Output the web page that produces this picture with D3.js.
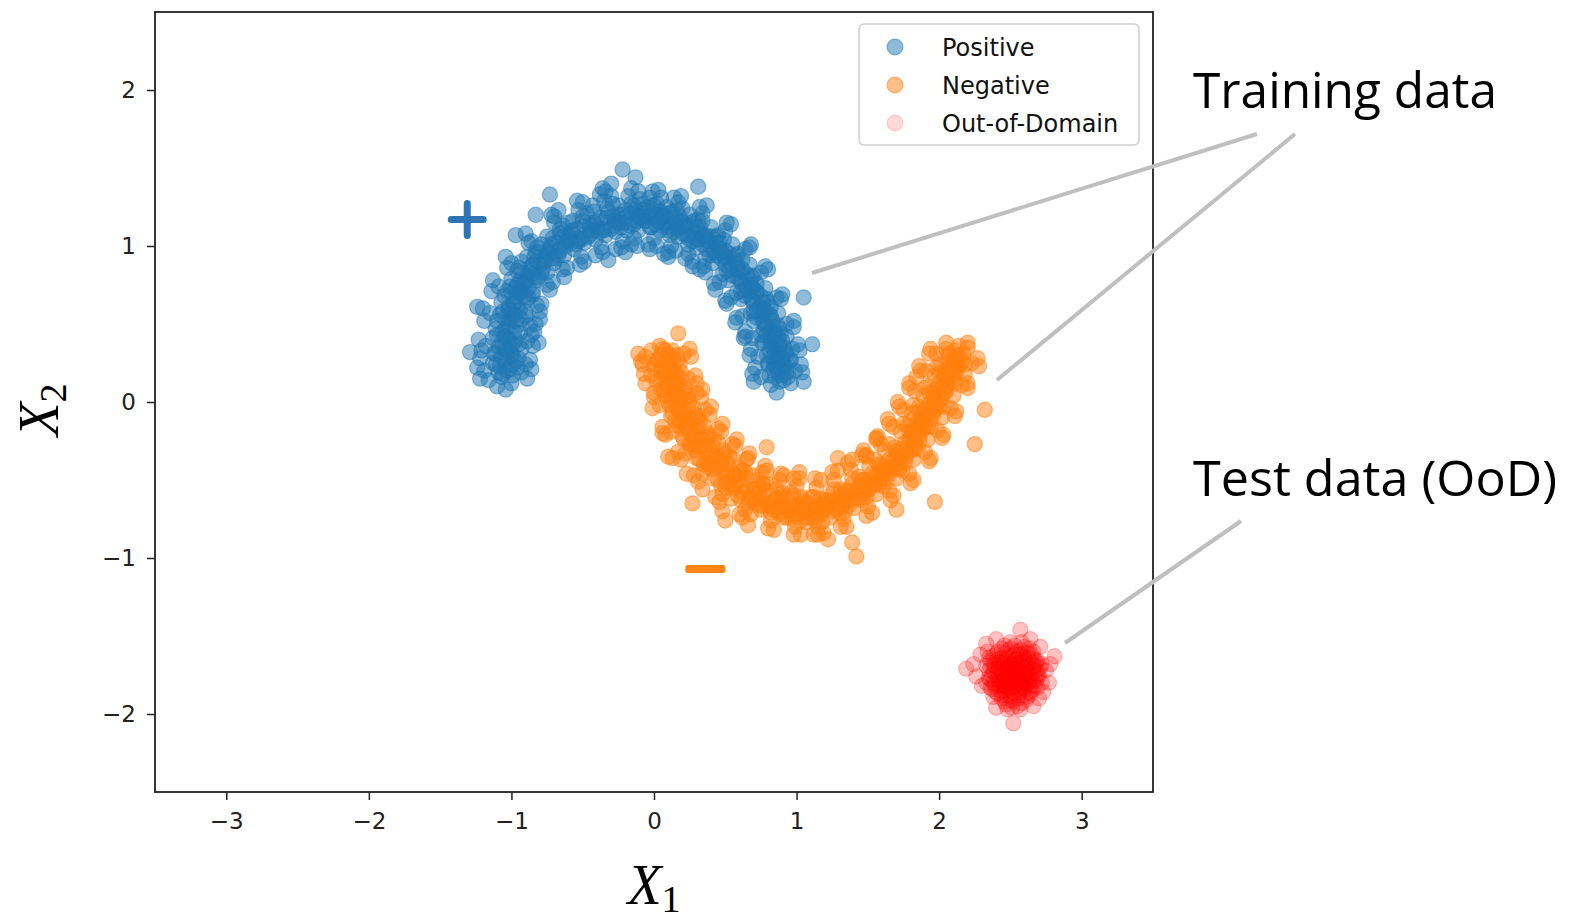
<!DOCTYPE html>
<html>
<head>
<meta charset="utf-8">
<script src="https://cdn.jsdelivr.net/npm/d3@7"></script>
<style>
  body { margin: 0; background: #fff; }
  svg { display: block; }
</style>
</head>
<body>
<div id="chart"></div>
<script>
// tick values
const xTicks = [-3, -2, -1, 0, 1, 2, 3]
const yTicks = [-2, -1, 0, 1, 2]

const seriesNames = ['Positive', 'Negative', 'Out-of-Domain']

// points, [x1, x2]
const positivePoints = [
  [-1.19, 0.20], [-1.13, 0.25], [-1.09, 0.19], [-1.05, 0.27], [-1.01, 0.21], [-0.97, 0.26], [-0.93, 0.19], [-0.90, 0.24], [-1.07, 0.16], [-0.99, 0.17],
  [-1.18, 0.36], [-1.13, 0.41], [-1.09, 0.35], [-1.05, 0.42], [-1.01, 0.36], [-0.97, 0.40], [-0.93, 0.34], [-0.89, 0.39], [-1.11, 0.31], [-1.00, 0.30],
  [-1.15, 0.57], [-1.10, 0.52], [-1.06, 0.58], [-1.02, 0.51], [-0.98, 0.56], [-0.94, 0.50], [-0.90, 0.55], [-0.87, 0.49], [-1.04, 0.47], [-0.96, 0.61],
  [-1.09, 0.74], [-1.05, 0.68], [-1.01, 0.74], [-0.97, 0.67], [-0.93, 0.72], [-0.89, 0.65], [-0.85, 0.69], [-0.82, 0.62], [-0.99, 0.63], [-0.94, 0.78],
  [-1.00, 0.89], [-0.96, 0.84], [-0.93, 0.90], [-0.89, 0.81], [-0.86, 0.87], [-0.82, 0.78], [-0.79, 0.83], [-0.75, 0.75], [-0.91, 0.76], [-0.84, 0.93],
  [-0.86, 1.03], [-0.83, 0.96], [-0.79, 1.01], [-0.76, 0.93], [-0.73, 0.99], [-0.70, 0.89], [-0.67, 0.94], [-0.64, 0.85], [-0.80, 0.88], [-0.71, 1.05],
  [-0.70, 1.15], [-0.66, 1.08], [-0.64, 1.13], [-0.61, 1.03], [-0.58, 1.09], [-0.56, 0.98], [-0.53, 1.03], [-0.51, 0.93], [-0.67, 0.98], [-0.57, 1.16],
  [-0.53, 1.23], [-0.50, 1.16], [-0.47, 1.21], [-0.45, 1.10], [-0.42, 1.15], [-0.41, 1.04], [-0.38, 1.09], [-0.37, 0.99], [-0.51, 1.04], [-0.43, 1.26],
  [-0.35, 1.29], [-0.32, 1.22], [-0.29, 1.27], [-0.28, 1.16], [-0.25, 1.20], [-0.27, 1.09], [-0.23, 1.12], [-0.22, 1.03], [-0.35, 1.10], [-0.30, 1.32],
  [-0.18, 1.32], [-0.14, 1.26], [-0.10, 1.30], [-0.12, 1.20], [-0.08, 1.23], [-0.17, 1.13], [-0.11, 1.10], [-0.14, 1.05], [-0.20, 1.18], [-0.06, 1.16],
  [-0.03, 1.31], [0.02, 1.27], [0.05, 1.31], [0.01, 1.20], [0.05, 1.22], [-0.02, 1.12], [0.04, 1.10], [0.00, 1.05], [-0.05, 1.19], [0.08, 1.15],
  [0.17, 1.28], [0.13, 1.22], [0.20, 1.24], [0.14, 1.15], [0.19, 1.16], [0.11, 1.07], [0.17, 1.06], [0.12, 1.00], [0.09, 1.12], [0.22, 1.12],
  [0.34, 1.21], [0.28, 1.16], [0.34, 1.16], [0.28, 1.08], [0.33, 1.08], [0.24, 1.01], [0.30, 0.99], [0.24, 0.95], [0.23, 1.07], [0.37, 1.04],
  [0.50, 1.10], [0.44, 1.06], [0.49, 1.04], [0.41, 0.99], [0.46, 0.98], [0.36, 0.92], [0.41, 0.89], [0.35, 0.87], [0.38, 1.03], [0.50, 0.93],
  [0.64, 0.98], [0.58, 0.94], [0.62, 0.91], [0.54, 0.88], [0.58, 0.85], [0.48, 0.82], [0.52, 0.78], [0.46, 0.77], [0.50, 0.92], [0.62, 0.83],
  [0.75, 0.83], [0.69, 0.80], [0.72, 0.76], [0.64, 0.75], [0.67, 0.71], [0.58, 0.70], [0.61, 0.66], [0.54, 0.67], [0.60, 0.79], [0.72, 0.70],
  [0.86, 0.67], [0.79, 0.66], [0.82, 0.61], [0.74, 0.61], [0.76, 0.56], [0.68, 0.57], [0.70, 0.52], [0.62, 0.55], [0.69, 0.65], [0.82, 0.55],
  [0.93, 0.50], [0.87, 0.49], [0.89, 0.44], [0.81, 0.46], [0.83, 0.41], [0.75, 0.43], [0.76, 0.38], [0.69, 0.41], [0.77, 0.51], [0.90, 0.39],
  [0.97, 0.34], [0.91, 0.35], [0.93, 0.30], [0.85, 0.32], [0.87, 0.27], [0.79, 0.30], [0.80, 0.25], [0.73, 0.29], [0.82, 0.37], [0.95, 0.26],
  [0.99, 0.20], [0.93, 0.22], [0.94, 0.16], [0.87, 0.19], [0.88, 0.13], [0.81, 0.17], [0.82, 0.11], [0.75, 0.16], [0.84, 0.24], [0.96, 0.12],
  [-1.12, 0.31], [-1.07, 0.29], [-1.03, 0.32], [-0.99, 0.30], [-0.95, 0.28], [-1.05, 0.34],
  [-1.11, 0.47], [-1.06, 0.45], [-1.02, 0.48], [-0.98, 0.45], [-0.94, 0.44], [-1.04, 0.42],
  [-1.07, 0.64], [-1.02, 0.61], [-0.98, 0.63], [-0.94, 0.59], [-0.90, 0.58], [-1.00, 0.57],
  [-1.00, 0.79], [-0.96, 0.75], [-0.92, 0.77], [-0.88, 0.73], [-0.85, 0.71], [-0.94, 0.70],
  [-0.89, 0.93], [-0.85, 0.88], [-0.82, 0.90], [-0.78, 0.85], [-0.75, 0.83], [-0.85, 0.82],
  [-0.75, 1.06], [-0.72, 1.01], [-0.69, 1.02], [-0.66, 0.97], [-0.63, 0.94], [-0.73, 0.95],
  [-0.60, 1.15], [-0.57, 1.10], [-0.54, 1.11], [-0.52, 1.05], [-0.49, 1.02], [-0.59, 1.04],
  [-0.42, 1.22], [-0.40, 1.16], [-0.37, 1.18], [-0.36, 1.11], [-0.34, 1.07], [-0.43, 1.10],
  [-0.25, 1.26], [-0.23, 1.20], [-0.20, 1.23], [-0.21, 1.15], [-0.19, 1.10], [-0.27, 1.16],
  [-0.08, 1.27], [-0.07, 1.21], [-0.04, 1.25], [-0.06, 1.16], [-0.03, 1.12], [-0.11, 1.18],
  [0.09, 1.25], [0.07, 1.19], [0.11, 1.21], [0.06, 1.13], [0.10, 1.10], [0.03, 1.16],
  [0.25, 1.20], [0.22, 1.14], [0.26, 1.15], [0.20, 1.08], [0.24, 1.05], [0.17, 1.11],
  [0.40, 1.12], [0.36, 1.07], [0.40, 1.06], [0.34, 1.01], [0.37, 0.98], [0.31, 1.04],
  [0.55, 1.01], [0.50, 0.97], [0.53, 0.95], [0.47, 0.92], [0.50, 0.88], [0.44, 0.94],
  [0.67, 0.88], [0.62, 0.85], [0.65, 0.82], [0.58, 0.80], [0.61, 0.77], [0.55, 0.81],
  [0.78, 0.73], [0.72, 0.71], [0.75, 0.68], [0.68, 0.67], [0.70, 0.63], [0.64, 0.68],
  [0.87, 0.57], [0.81, 0.56], [0.83, 0.52], [0.76, 0.53], [0.78, 0.49], [0.72, 0.54],
  [0.93, 0.42], [0.87, 0.41], [0.88, 0.37], [0.82, 0.39], [0.83, 0.35], [0.77, 0.39],
  [0.96, 0.27], [0.90, 0.27], [0.91, 0.23], [0.85, 0.26], [0.86, 0.22], [0.80, 0.24],
  [-1.08, 0.23], [-1.03, 0.20], [-1.00, 0.24], [-1.06, 0.18], [-1.11, 0.24], [-0.96, 0.22],
  [-1.07, 0.38], [-1.02, 0.40], [-0.99, 0.37], [-1.10, 0.43], [-1.04, 0.34], [-0.95, 0.37],
  [-1.05, 0.54], [-1.00, 0.53], [-0.97, 0.52], [-1.08, 0.56], [-1.02, 0.59], [-0.93, 0.53],
  [-1.00, 0.70], [-0.95, 0.70], [-0.91, 0.68], [-1.03, 0.71], [-0.97, 0.73], [-0.88, 0.67],
  [-0.92, 0.83], [-0.87, 0.83], [-0.84, 0.80], [-0.95, 0.86], [-0.89, 0.78], [-0.81, 0.80],
  [-0.79, 0.96], [-0.75, 0.96], [-0.72, 0.92], [-0.82, 0.99], [-0.77, 0.90], [-0.69, 0.92],
  [-0.64, 1.06], [-0.60, 1.06], [-0.58, 1.02], [-0.66, 1.11], [-0.62, 1.00], [-0.55, 1.01],
  [-0.49, 1.13], [-0.45, 1.13], [-0.44, 1.08], [-0.50, 1.19], [-0.46, 1.06], [-0.40, 1.12],
  [-0.33, 1.18], [-0.29, 1.19], [-0.28, 1.13], [-0.33, 1.24], [-0.30, 1.11], [-0.25, 1.15],
  [-0.16, 1.21], [-0.13, 1.23], [-0.12, 1.16], [-0.16, 1.27], [-0.14, 1.14], [-0.09, 1.19],
  [-0.01, 1.21], [0.03, 1.22], [0.03, 1.16], [0.00, 1.26], [0.01, 1.14], [0.06, 1.19],
  [0.15, 1.18], [0.18, 1.19], [0.16, 1.12], [0.16, 1.23], [0.14, 1.09], [0.20, 1.13],
  [0.30, 1.12], [0.32, 1.12], [0.29, 1.05], [0.31, 1.17], [0.27, 1.03], [0.34, 1.06],
  [0.44, 1.02], [0.46, 1.02], [0.42, 0.96], [0.45, 1.07], [0.39, 0.94], [0.47, 0.96],
  [0.56, 0.91], [0.58, 0.89], [0.53, 0.85], [0.59, 0.95], [0.51, 0.84], [0.59, 0.86],
  [0.67, 0.78], [0.68, 0.75], [0.63, 0.72], [0.70, 0.81], [0.61, 0.71], [0.69, 0.73],
  [0.76, 0.64], [0.77, 0.60], [0.72, 0.58], [0.80, 0.64], [0.70, 0.58], [0.78, 0.58],
  [0.83, 0.48], [0.84, 0.45], [0.79, 0.43], [0.88, 0.47], [0.77, 0.46], [0.85, 0.43],
  [0.87, 0.33], [0.88, 0.31], [0.83, 0.29], [0.92, 0.32], [0.81, 0.33], [0.89, 0.28],
  [0.89, 0.20], [0.90, 0.17], [0.85, 0.16], [0.93, 0.19], [0.84, 0.21], [0.91, 0.14],
  [-1.24, 0.22], [-1.22, 0.28], [-0.86, 0.21], [-0.87, 0.27],
  [-1.23, 0.40], [-1.21, 0.33], [-0.85, 0.36], [-0.86, 0.43],
  [-1.20, 0.60], [-1.19, 0.52], [-0.83, 0.50], [-0.84, 0.45],
  [-1.13, 0.78], [-1.14, 0.71], [-0.79, 0.63], [-0.80, 0.58],
  [-1.04, 0.93], [-1.03, 0.86], [-0.73, 0.72], [-0.71, 0.77],
  [-0.90, 1.08], [-0.88, 1.02], [-0.63, 0.80], [-0.61, 0.86],
  [-0.72, 1.20], [-0.70, 1.19], [-0.52, 0.88], [-0.49, 0.90],
  [-0.54, 1.29], [-0.50, 1.28], [-0.41, 0.94], [-0.36, 0.96],
  [-0.34, 1.35], [-0.38, 1.33], [-0.27, 0.98], [-0.23, 0.99],
  [-0.16, 1.37], [-0.11, 1.35], [-0.16, 1.01], [-0.12, 1.00],
  [0.03, 1.36], [-0.01, 1.35], [0.02, 1.00], [-0.04, 1.01],
  [0.19, 1.32], [0.14, 1.31], [0.10, 0.96], [0.15, 0.97],
  [0.37, 1.26], [0.32, 1.25], [0.22, 0.92], [0.27, 0.90],
  [0.54, 1.14], [0.51, 1.15], [0.32, 0.85], [0.36, 0.83],
  [0.68, 1.01], [0.67, 0.99], [0.42, 0.76], [0.43, 0.72],
  [0.80, 0.85], [0.78, 0.87], [0.50, 0.65], [0.51, 0.63],
  [0.90, 0.69], [0.89, 0.66], [0.58, 0.54], [0.57, 0.51],
  [0.98, 0.52], [0.98, 0.48], [0.63, 0.41], [0.64, 0.45],
  [1.02, 0.33], [1.01, 0.37], [0.67, 0.30], [0.68, 0.34],
  [1.04, 0.19], [1.03, 0.24], [0.69, 0.18], [0.70, 0.13],
  [-0.22, 1.49], [-0.13, 1.44], [-0.73, 1.33], [-0.67, 1.23], [-0.83, 1.20], [-0.97, 1.07],
  [-1.24, 0.61], [-1.29, 0.32], [-1.22, 0.15], [-1.04, 0.08], [-0.89, 0.15], [-0.81, 0.38],
  [-0.80, 0.53], [-0.32, 0.91], [-0.20, 0.96], [0.31, 1.38], [0.10, 0.93], [0.27, 0.87],
  [1.05, 0.67], [1.11, 0.37], [1.05, 0.13], [0.86, 0.06], [0.71, 0.22], [0.64, 0.42],
  [-0.36, 1.37], [-0.30, 1.40], [-0.03, 0.98], [0.07, 0.95], [-1.16, 0.14], [-1.10, 0.10], [-1.00, 0.12]
]

const negativePoints = [
  [-0.06, 0.29], [-0.02, 0.33], [0.02, 0.27], [0.06, 0.34], [0.09, 0.28], [0.13, 0.33], [0.17, 0.27], [0.21, 0.31], [0.00, 0.22], [0.11, 0.23], [0.04, 0.36],
  [-0.02, 0.17], [0.02, 0.13], [0.05, 0.19], [0.09, 0.12], [0.12, 0.18], [0.16, 0.13], [0.19, 0.19], [0.24, 0.15], [0.07, 0.08], [0.15, 0.09],
  [0.04, -0.02], [0.08, 0.04], [0.11, -0.02], [0.15, 0.05], [0.18, 0.00], [0.22, 0.06], [0.25, 0.01], [0.30, 0.06], [0.13, -0.07], [0.21, -0.06],
  [0.12, -0.19], [0.15, -0.12], [0.19, -0.17], [0.22, -0.10], [0.26, -0.15], [0.29, -0.08], [0.32, -0.12], [0.36, -0.05], [0.20, -0.22], [0.30, -0.18],
  [0.22, -0.33], [0.25, -0.26], [0.29, -0.31], [0.32, -0.23], [0.36, -0.28], [0.38, -0.20], [0.42, -0.24], [0.45, -0.17], [0.30, -0.36], [0.40, -0.31],
  [0.34, -0.46], [0.37, -0.39], [0.41, -0.43], [0.43, -0.35], [0.47, -0.40], [0.49, -0.31], [0.53, -0.35], [0.55, -0.27], [0.42, -0.49], [0.51, -0.44],
  [0.48, -0.59], [0.51, -0.52], [0.55, -0.55], [0.56, -0.47], [0.60, -0.50], [0.60, -0.42], [0.64, -0.45], [0.65, -0.37], [0.54, -0.62], [0.62, -0.58],
  [0.64, -0.69], [0.67, -0.62], [0.71, -0.65], [0.70, -0.56], [0.74, -0.59], [0.73, -0.50], [0.77, -0.53], [0.76, -0.45], [0.68, -0.72], [0.77, -0.67],
  [0.82, -0.76], [0.84, -0.69], [0.88, -0.72], [0.85, -0.63], [0.89, -0.65], [0.86, -0.56], [0.90, -0.58], [0.88, -0.50], [0.80, -0.66], [0.93, -0.74],
  [0.99, -0.80], [0.98, -0.73], [1.03, -0.76], [1.00, -0.67], [1.04, -0.69], [0.98, -0.60], [1.03, -0.61], [1.00, -0.54], [0.95, -0.70], [1.07, -0.74],
  [1.15, -0.80], [1.12, -0.74], [1.18, -0.77], [1.14, -0.68], [1.18, -0.70], [1.12, -0.61], [1.17, -0.62], [1.14, -0.55], [1.10, -0.69], [1.21, -0.66],
  [1.33, -0.75], [1.28, -0.69], [1.34, -0.70], [1.29, -0.62], [1.33, -0.63], [1.26, -0.56], [1.31, -0.56], [1.26, -0.50], [1.24, -0.64], [1.37, -0.66],
  [1.50, -0.67], [1.44, -0.62], [1.49, -0.61], [1.43, -0.55], [1.47, -0.54], [1.39, -0.49], [1.44, -0.48], [1.38, -0.43], [1.40, -0.59], [1.51, -0.56],
  [1.65, -0.57], [1.58, -0.53], [1.63, -0.51], [1.56, -0.46], [1.60, -0.44], [1.51, -0.41], [1.55, -0.37], [1.49, -0.35], [1.53, -0.51], [1.64, -0.44],
  [1.79, -0.46], [1.72, -0.43], [1.76, -0.39], [1.68, -0.37], [1.71, -0.33], [1.62, -0.31], [1.65, -0.27], [1.59, -0.27], [1.66, -0.42], [1.77, -0.33],
  [1.90, -0.32], [1.83, -0.30], [1.86, -0.25], [1.79, -0.24], [1.81, -0.19], [1.73, -0.19], [1.75, -0.14], [1.68, -0.16], [1.77, -0.30], [1.87, -0.19],
  [1.99, -0.18], [1.92, -0.16], [1.94, -0.11], [1.87, -0.11], [1.89, -0.06], [1.81, -0.07], [1.82, -0.02], [1.75, -0.05], [1.85, -0.17], [1.96, -0.06],
  [2.08, -0.04], [2.01, -0.02], [2.02, 0.03], [1.95, 0.01], [1.97, 0.06], [1.89, 0.04], [1.90, 0.09], [1.83, 0.07], [1.94, -0.05], [2.05, 0.07],
  [2.16, 0.11], [2.09, 0.13], [2.10, 0.18], [2.03, 0.15], [2.04, 0.20], [1.97, 0.17], [1.98, 0.22], [1.91, 0.20], [2.02, 0.09], [2.13, 0.22],
  [2.23, 0.25], [2.16, 0.26], [2.17, 0.31], [2.10, 0.27], [2.11, 0.33], [2.04, 0.29], [2.05, 0.34], [1.98, 0.31], [2.09, 0.21], [2.20, 0.35],
  [0.01, 0.24], [0.06, 0.22], [0.10, 0.25], [0.14, 0.21], [0.18, 0.24], [0.08, 0.19],
  [0.05, 0.08], [0.10, 0.10], [0.14, 0.07], [0.18, 0.11], [0.22, 0.09], [0.12, 0.04],
  [0.12, -0.09], [0.17, -0.05], [0.20, -0.08], [0.24, -0.03], [0.28, -0.04], [0.18, -0.12],
  [0.21, -0.24], [0.25, -0.19], [0.28, -0.22], [0.31, -0.16], [0.35, -0.15], [0.26, -0.27],
  [0.32, -0.37], [0.36, -0.32], [0.39, -0.34], [0.41, -0.28], [0.45, -0.26], [0.35, -0.40],
  [0.45, -0.50], [0.48, -0.44], [0.51, -0.46], [0.52, -0.40], [0.56, -0.37], [0.47, -0.53],
  [0.59, -0.60], [0.62, -0.54], [0.65, -0.56], [0.65, -0.49], [0.69, -0.47], [0.61, -0.63],
  [0.75, -0.69], [0.76, -0.62], [0.80, -0.64], [0.79, -0.57], [0.82, -0.53], [0.74, -0.66],
  [0.91, -0.74], [0.92, -0.67], [0.95, -0.69], [0.93, -0.62], [0.96, -0.58], [0.89, -0.70],
  [1.07, -0.77], [1.06, -0.70], [1.10, -0.72], [1.08, -0.65], [1.10, -0.61], [1.04, -0.68],
  [1.24, -0.74], [1.21, -0.68], [1.25, -0.70], [1.22, -0.63], [1.25, -0.59], [1.19, -0.65],
  [1.40, -0.68], [1.36, -0.63], [1.40, -0.62], [1.36, -0.57], [1.39, -0.53], [1.33, -0.59],
  [1.56, -0.59], [1.51, -0.55], [1.55, -0.53], [1.50, -0.50], [1.53, -0.46], [1.46, -0.50],
  [1.70, -0.49], [1.65, -0.46], [1.68, -0.43], [1.62, -0.41], [1.65, -0.37], [1.58, -0.40],
  [1.82, -0.37], [1.77, -0.35], [1.80, -0.31], [1.73, -0.30], [1.76, -0.26], [1.69, -0.29],
  [1.92, -0.24], [1.86, -0.22], [1.89, -0.17], [1.82, -0.18], [1.85, -0.13], [1.78, -0.15],
  [2.02, -0.10], [1.96, -0.08], [1.98, -0.04], [1.91, -0.05], [1.93, -0.01], [1.86, -0.03],
  [2.10, 0.04], [2.04, 0.06], [2.05, 0.10], [1.98, 0.08], [2.00, 0.12], [1.93, 0.10],
  [2.18, 0.18], [2.12, 0.19], [2.13, 0.24], [2.06, 0.21], [2.07, 0.26], [2.01, 0.24],
  [0.05, 0.30], [0.10, 0.31], [0.13, 0.28], [0.03, 0.27], [0.08, 0.33], [0.16, 0.30],
  [0.08, 0.16], [0.13, 0.15], [0.16, 0.17], [0.05, 0.14], [0.11, 0.20], [0.19, 0.15],
  [0.13, 0.02], [0.18, 0.03], [0.21, 0.02], [0.10, 0.00], [0.16, -0.03], [0.24, 0.04],
  [0.20, -0.13], [0.25, -0.11], [0.28, -0.11], [0.17, -0.15], [0.23, -0.16], [0.31, -0.09],
  [0.29, -0.27], [0.34, -0.24], [0.37, -0.23], [0.26, -0.29], [0.32, -0.29], [0.39, -0.22],
  [0.40, -0.40], [0.45, -0.36], [0.48, -0.35], [0.38, -0.42], [0.44, -0.41], [0.50, -0.33],
  [0.53, -0.51], [0.57, -0.47], [0.60, -0.46], [0.51, -0.55], [0.57, -0.53], [0.62, -0.44],
  [0.68, -0.61], [0.71, -0.56], [0.74, -0.55], [0.66, -0.65], [0.72, -0.62], [0.76, -0.52],
  [0.83, -0.67], [0.86, -0.62], [0.89, -0.61], [0.82, -0.71], [0.87, -0.68], [0.91, -0.60],
  [0.99, -0.71], [1.01, -0.66], [1.04, -0.65], [0.97, -0.75], [1.02, -0.72], [1.05, -0.63],
  [1.14, -0.71], [1.16, -0.66], [1.19, -0.66], [1.13, -0.76], [1.17, -0.72], [1.20, -0.63],
  [1.30, -0.66], [1.31, -0.61], [1.34, -0.61], [1.30, -0.71], [1.32, -0.67], [1.34, -0.57],
  [1.45, -0.59], [1.45, -0.54], [1.48, -0.53], [1.46, -0.63], [1.47, -0.58], [1.47, -0.50],
  [1.59, -0.49], [1.58, -0.45], [1.61, -0.44], [1.61, -0.54], [1.60, -0.48], [1.59, -0.41],
  [1.71, -0.40], [1.70, -0.36], [1.73, -0.35], [1.74, -0.44], [1.72, -0.39], [1.70, -0.32],
  [1.82, -0.27], [1.80, -0.23], [1.83, -0.22], [1.85, -0.30], [1.82, -0.25], [1.79, -0.19],
  [1.90, -0.14], [1.88, -0.10], [1.91, -0.09], [1.94, -0.16], [1.89, -0.12], [1.86, -0.06],
  [1.98, -0.01], [1.96, 0.03], [1.99, 0.04], [2.03, -0.03], [1.97, 0.00], [1.93, 0.06],
  [2.06, 0.14], [2.04, 0.17], [2.07, 0.18], [2.11, 0.12], [2.05, 0.15], [2.00, 0.19],
  [2.13, 0.26], [2.11, 0.29], [2.14, 0.30], [2.18, 0.24], [2.12, 0.27], [2.07, 0.31],
  [-0.11, 0.31], [-0.09, 0.26], [0.26, 0.29], [0.25, 0.34],
  [-0.07, 0.18], [-0.06, 0.12], [0.29, 0.17], [0.30, 0.12],
  [-0.01, -0.04], [0.00, 0.03], [0.34, 0.08], [0.33, 0.03],
  [0.08, -0.21], [0.06, -0.16], [0.40, -0.03], [0.39, -0.08],
  [0.19, -0.37], [0.17, -0.32], [0.48, -0.14], [0.47, -0.19],
  [0.31, -0.51], [0.28, -0.47], [0.58, -0.24], [0.57, -0.28],
  [0.46, -0.64], [0.43, -0.61], [0.67, -0.33], [0.66, -0.36],
  [0.62, -0.74], [0.60, -0.72], [0.78, -0.41], [0.79, -0.44],
  [0.80, -0.81], [0.84, -0.82], [0.89, -0.46], [0.91, -0.47],
  [0.98, -0.85], [1.03, -0.85], [1.02, -0.49], [0.98, -0.49],
  [1.15, -0.85], [1.19, -0.84], [1.13, -0.49], [1.17, -0.50],
  [1.35, -0.80], [1.31, -0.80], [1.25, -0.45], [1.29, -0.44],
  [1.53, -0.71], [1.49, -0.73], [1.36, -0.39], [1.39, -0.37],
  [1.68, -0.60], [1.66, -0.63], [1.47, -0.31], [1.46, -0.34],
  [1.82, -0.50], [1.80, -0.52], [1.56, -0.24], [1.57, -0.22],
  [1.94, -0.36], [1.93, -0.38], [1.65, -0.14], [1.64, -0.11],
  [2.03, -0.21], [2.02, -0.23], [1.72, -0.03], [1.71, 0.00],
  [2.12, -0.06], [2.11, -0.09], [1.79, 0.09], [1.79, 0.12],
  [2.20, 0.09], [2.20, 0.12], [1.87, 0.20], [1.86, 0.23],
  [2.28, 0.23], [2.27, 0.28], [1.93, 0.31], [1.94, 0.34],
  [2.05, 0.38], [2.20, 0.38], [2.14, 0.36],
  [0.17, 0.44], [0.79, -0.29], [0.27, -0.65], [0.50, -0.76], [0.66, -0.79], [1.02, -0.45],
  [1.42, -0.99], [1.39, -0.90], [1.22, -0.88], [1.12, -0.85], [2.32, -0.05], [2.25, -0.27],
  [1.84, 0.16], [1.80, -0.12], [1.97, -0.64], [1.49, -0.34], [1.56, -0.23], [1.29, -0.36],
  [0.23, -0.46], [0.10, -0.35], [0.34, -0.56], [0.48, -0.70], [1.70, -0.69],
  [-0.08, 0.24], [0.00, 0.06], [0.06, -0.20], [0.13, -0.36]
]

const oodPoints = [
  [2.46, -1.56], [2.53, -1.56], [2.60, -1.57],
  [2.41, -1.60], [2.48, -1.59], [2.55, -1.60], [2.62, -1.61], [2.66, -1.60],
  [2.38, -1.63], [2.44, -1.64], [2.51, -1.63], [2.57, -1.62], [2.63, -1.64],
  [2.36, -1.66], [2.42, -1.67], [2.47, -1.66], [2.53, -1.65], [2.59, -1.66], [2.65, -1.67], [2.69, -1.66],
  [2.39, -1.69], [2.45, -1.70], [2.50, -1.69], [2.55, -1.68], [2.61, -1.70], [2.67, -1.69],
  [2.35, -1.72], [2.41, -1.73], [2.47, -1.72], [2.52, -1.71], [2.57, -1.72], [2.63, -1.73], [2.68, -1.72],
  [2.37, -1.75], [2.43, -1.76], [2.49, -1.75], [2.54, -1.74], [2.59, -1.75], [2.65, -1.76], [2.70, -1.75],
  [2.36, -1.78], [2.42, -1.79], [2.47, -1.78], [2.52, -1.77], [2.58, -1.78], [2.64, -1.79], [2.68, -1.78],
  [2.39, -1.81], [2.45, -1.82], [2.50, -1.81], [2.56, -1.80], [2.62, -1.81], [2.67, -1.82],
  [2.37, -1.84], [2.43, -1.85], [2.48, -1.84], [2.54, -1.83], [2.60, -1.84], [2.65, -1.85],
  [2.41, -1.87], [2.47, -1.88], [2.53, -1.87], [2.59, -1.88], [2.64, -1.87],
  [2.44, -1.90], [2.50, -1.91], [2.56, -1.90], [2.61, -1.91],
  [2.47, -1.94], [2.55, -1.95],
  [2.44, -1.58], [2.50, -1.58], [2.57, -1.59], [2.63, -1.58],
  [2.40, -1.62], [2.46, -1.61], [2.53, -1.62], [2.59, -1.61], [2.65, -1.62],
  [2.35, -1.64], [2.41, -1.65], [2.48, -1.64], [2.54, -1.65], [2.60, -1.64], [2.67, -1.65],
  [2.38, -1.68], [2.44, -1.67], [2.50, -1.68], [2.56, -1.67], [2.62, -1.68], [2.68, -1.67],
  [2.36, -1.70], [2.42, -1.71], [2.48, -1.70], [2.54, -1.71], [2.60, -1.70], [2.66, -1.71], [2.71, -1.70],
  [2.38, -1.73], [2.45, -1.74], [2.51, -1.73], [2.57, -1.74], [2.62, -1.73], [2.69, -1.74],
  [2.35, -1.77], [2.41, -1.76], [2.47, -1.77], [2.53, -1.76], [2.58, -1.77], [2.63, -1.76], [2.69, -1.77],
  [2.38, -1.80], [2.44, -1.79], [2.49, -1.80], [2.54, -1.79], [2.60, -1.80], [2.66, -1.79],
  [2.36, -1.83], [2.42, -1.82], [2.48, -1.83], [2.53, -1.82], [2.59, -1.83], [2.64, -1.82], [2.69, -1.83],
  [2.40, -1.86], [2.46, -1.85], [2.51, -1.86], [2.57, -1.85], [2.63, -1.86],
  [2.38, -1.89], [2.44, -1.88], [2.50, -1.89], [2.56, -1.88], [2.62, -1.89],
  [2.46, -1.92], [2.52, -1.92], [2.58, -1.93],
  [2.51, -1.96],
  [2.45, -1.67], [2.51, -1.68], [2.57, -1.67],
  [2.48, -1.70], [2.53, -1.71], [2.58, -1.70],
  [2.44, -1.73], [2.50, -1.74], [2.55, -1.73], [2.60, -1.74],
  [2.46, -1.76], [2.51, -1.77], [2.56, -1.76], [2.61, -1.77],
  [2.45, -1.79], [2.50, -1.80], [2.55, -1.79], [2.60, -1.80],
  [2.47, -1.82], [2.52, -1.83], [2.58, -1.82],
  [2.52, -1.74], [2.49, -1.73], [2.56, -1.75],
  [2.33, -1.69], [2.33, -1.80], [2.72, -1.68], [2.72, -1.80], [2.50, -1.54], [2.58, -1.54],
  [2.48, -1.97], [2.57, -1.97], [2.34, -1.60], [2.70, -1.90],
  [2.19, -1.71], [2.81, -1.63], [2.52, -2.06], [2.57, -1.46], [2.71, -1.57], [2.73, -1.86],
  [2.29, -1.62], [2.30, -1.82], [2.75, -1.72],
  [2.24, -1.68], [2.33, -1.55], [2.40, -1.52], [2.64, -1.52], [2.78, -1.68], [2.77, -1.80],
  [2.66, -1.95], [2.40, -1.96], [2.26, -1.76]
]

const width = 1570
const height = 924
const plot = { left: 155, right: 1153, top: 12, bottom: 792 }

const colors = ['#1f77b4', '#ff7f0e', '#ff0000']
const alphas = [0.5, 0.5, 0.24]
const radius = 7.6

const svg = d3.select('#chart')
  .append('svg')
  .attr('width', width)
  .attr('height', height)
  .style('background', '#fff')

const x = d3.scaleLinear().domain([-3.5, 3.5]).range([plot.left, plot.right])
const y = d3.scaleLinear().domain([-2.5, 2.5]).range([plot.bottom, plot.top])

// axes
const xAxis = svg.append('g')
  .attr('transform', `translate(0,${plot.bottom})`)
  .call(d3.axisBottom(x).tickValues(xTicks).tickFormat(d3.format('d')).tickSize(8).tickPadding(13))
const yAxis = svg.append('g')
  .attr('transform', `translate(${plot.left},0)`)
  .call(d3.axisLeft(y).tickValues(yTicks).tickFormat(d3.format('d')).tickSize(8).tickPadding(11))

;[xAxis, yAxis].forEach(g => {
  g.select('.domain').remove()
  g.selectAll('.tick line').attr('stroke', '#222').attr('stroke-width', 1.5)
  g.selectAll('.tick text')
    .attr('fill', '#222')
    .style('font-family', 'DejaVu Sans')
    .style('font-size', '23px')
})

// points
const groups = [positivePoints, negativePoints, oodPoints]
groups.forEach((pts, i) => {
  svg.append('g')
    .selectAll('circle')
    .data(pts)
    .join('circle')
    .attr('cx', d => x(d[0]))
    .attr('cy', d => y(d[1]))
    .attr('r', radius)
    .attr('fill', colors[i])
    .attr('fill-opacity', alphas[i])
    .attr('stroke', colors[i])
    .attr('stroke-opacity', alphas[i])
    .attr('stroke-width', 1.2)
})

// frame
svg.append('rect')
  .attr('x', plot.left)
  .attr('y', plot.top)
  .attr('width', plot.right - plot.left)
  .attr('height', plot.bottom - plot.top)
  .attr('fill', 'none')
  .attr('stroke', '#222')
  .attr('stroke-width', 1.8)

// axis labels
const xLabel = svg.append('text')
  .attr('x', x(0))
  .attr('y', 904)
  .attr('text-anchor', 'middle')
  .style('font-family', 'Liberation Serif')
  .style('font-size', '56px')
xLabel.append('tspan').style('font-style', 'italic').text('X')
xLabel.append('tspan').attr('dy', 8).style('font-size', '38px').text('1')

const yLabel = svg.append('text')
  .attr('transform', `translate(58,${y(0) + 8}) rotate(-90)`)
  .attr('text-anchor', 'middle')
  .style('font-family', 'Liberation Serif')
  .style('font-size', '56px')
yLabel.append('tspan').style('font-style', 'italic').text('X')
yLabel.append('tspan').attr('dy', 8).style('font-size', '38px').text('2')

// legend
const legend = svg.append('g').attr('transform', 'translate(859,24)')
legend.append('rect')
  .attr('width', 280)
  .attr('height', 121)
  .attr('rx', 5)
  .attr('fill', '#fff')
  .attr('fill-opacity', 0.8)
  .attr('stroke', '#d0d0d0')
  .attr('stroke-width', 1.5)
seriesNames.forEach((name, i) => {
  const row = legend.append('g').attr('transform', `translate(0,${23 + i * 38})`)
  row.append('circle')
    .attr('cx', 36)
    .attr('r', radius + 0.3)
    .attr('fill', colors[i])
    .attr('fill-opacity', i === 2 ? 0.15 : alphas[i])
    .attr('stroke', colors[i])
    .attr('stroke-opacity', i === 2 ? 0.15 : alphas[i])
    .attr('stroke-width', 1.2)
  row.append('text')
    .attr('x', 83)
    .attr('dy', '0.36em')
    .attr('fill', '#111')
    .style('font-family', 'DejaVu Sans')
    .style('font-size', '24px')
    .text(name)
})

// class markers
const plusX = x(-1.31)
const plusY = y(1.17)
svg.append('path')
  .attr('d', `M${plusX - 16},${plusY}H${plusX + 16}M${plusX},${plusY - 16}V${plusY + 16}`)
  .attr('stroke', '#2e75b6')
  .attr('stroke-width', 7)
  .attr('stroke-linecap', 'round')
svg.append('rect')
  .attr('x', x(0.36) - 20)
  .attr('y', y(-1.07) - 4)
  .attr('width', 40)
  .attr('height', 8)
  .attr('rx', 2)
  .attr('fill', '#ff8412')

// callouts
const callouts = [
  { text: 'Training data', x: 1193, y: 108, w: 304, lines: [[812, 273, 1257, 134], [997, 380, 1295, 134]] },
  { text: 'Test data (OoD)', x: 1193, y: 496, w: 364, lines: [[1065, 643, 1241, 521]] }
]
callouts.forEach(c => {
  c.lines.forEach(l => {
    svg.append('line')
      .attr('x1', l[0]).attr('y1', l[1])
      .attr('x2', l[2]).attr('y2', l[3])
      .attr('stroke', '#bfbfbf')
      .attr('stroke-width', 4)
  })
  svg.append('text')
    .attr('x', c.x)
    .attr('y', c.y)
    .attr('textLength', c.w)
    .attr('lengthAdjust', 'spacingAndGlyphs')
    .attr('fill', '#000')
    .style('font-family', 'Open Sans')
    .style('font-size', '50px')
    .text(c.text)
})
</script>
</body>
</html>
